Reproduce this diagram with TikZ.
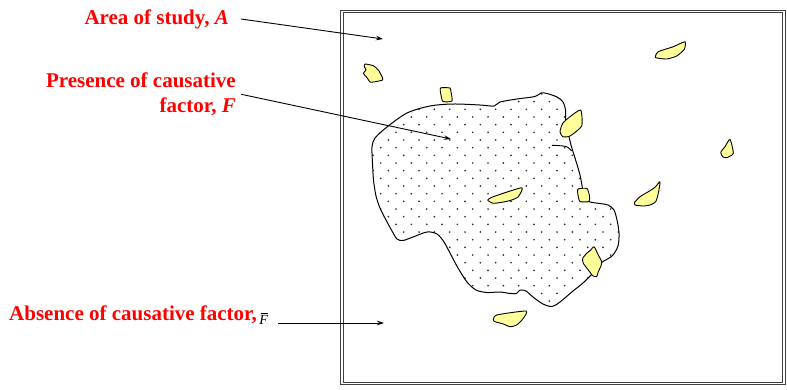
\documentclass[tikz,border=0pt]{standalone}
\usepackage{fontspec}
\setmainfont{Liberation Serif}
\usetikzlibrary{arrows.meta}
\definecolor{leafyellow}{RGB}{255,255,153}
\newcommand{\factorblob}{plot[smooth cycle, tension=0.5] coordinates {
  (372,147) (375,138) (387,127) (407,113) (430,106) (453,104) (480,105) (494,106)
  (500,102) (517,99) (535,96.5) (541,93) (547,93.5) (557,97) (563,102) (565.5,110)
  (565.5,118) (567,128) (571,145) (575,158) (580,175) (583,190) (588,201) (600,203.5)
  (608,205) (614,210) (617,220) (619,233) (618,246) (612,256) (601,263) (592,274)
  (583,283) (573,291) (560,302) (552,306.5) (543,304) (533,297) (526,291) (520,290)
  (516.5,293.5) (510,293.5) (500,292) (487,292.5) (476,290) (467,282) (458,268) (450,253)
  (444,242) (437,234) (427,232) (413,237) (403,240.5) (397,239) (392,231) (386,220)
  (380,208) (376,196) (373.5,180) (372.5,163)}}

\begin{document}
\begin{tikzpicture}[x=1pt, y=-1pt,
  label/.style={text=red, font=\fontsize{21}{25}\selectfont\bfseries, inner sep=0pt},
  pointer/.style={line width=0.9pt, -{Stealth[length=7pt, width=4.5pt]}},
  leaf/.style={draw=black, fill=leafyellow, line width=0.9pt, line join=round},
  frame/.style={draw=black!75, line width=1pt}]
\useasboundingbox (0,0) rectangle (787,389);
% area of study
\draw[frame] (340.5,10) rectangle (785,384.5);
\draw[frame] (343,12.5) rectangle (782.5,382);
% presence of the factor
\begin{scope}
\clip \factorblob;
\foreach \j in {0,...,30}{
  \foreach \i in {-6,...,12}{
    \pgfmathsetmacro{\xx}{449.7 + 15.33*\i + 7.67*mod(\j+1,2)}
    \pgfmathsetmacro{\yy}{86.3 + 7.67*\j}
    \fill[black!80] (\xx,\yy) circle (0.95);
  }
}
\end{scope}
\draw[line width=1pt] \factorblob;
\draw[line width=0.9pt] plot[smooth, tension=0.6] coordinates {(552,145.3) (566,146.5) (571.5,151)};
% leaves
\draw[leaf] plot[smooth cycle, tension=0.35] coordinates {(365,64) (373.3,65.7) (378.3,70) (381.7,76) (382.7,80) (373.3,82) (370,82) (366.7,77.3) (363.3,73.3) (366,70) (364.3,66.7)};
\draw[leaf] plot[smooth cycle, tension=0.35] coordinates {(440.5,88) (450,88) (451,92) (452,101) (443,101.5) (441,95)};
\draw[leaf] plot[smooth cycle, tension=0.35] coordinates {(655.5,57.5) (658.3,51.7) (673.3,46.7) (685,41.7) (684.3,49.3) (676.7,56) (666.7,59)};
\draw[leaf] plot[smooth cycle, tension=0.35] coordinates {(580.7,110) (581.7,126) (570,136) (562.7,136.7) (560,131.7) (562.7,123.3) (570,116.7)};
\draw[leaf] plot[smooth cycle, tension=0.35] coordinates {(730,139.3) (733.3,153.3) (726.7,157.7) (722.7,156.7) (720.7,152.3) (725,146.7)};
\draw[leaf] plot[smooth cycle, tension=0.35] coordinates {(487.7,200) (493.3,196.7) (521.7,187.7) (518.3,196.7) (511.7,200) (505,201.7) (493.3,203.3)};
\draw[leaf] plot[smooth cycle, tension=0.35] coordinates {(578,189) (587,188.5) (589.5,196) (589,201.5) (580,201.5) (578,195)};
\draw[leaf] plot[smooth cycle, tension=0.35] coordinates {(660,181.7) (658.3,193.3) (655.7,201.7) (650,205) (643.3,206) (635,205) (634.3,202.7) (640,196.7) (648.3,191.7) (655,187.3)};
\draw[leaf] plot[smooth cycle, tension=0.35] coordinates {(594,246.7) (598.3,255) (601.7,261.7) (600.7,266.7) (598.3,271.7) (596.7,276.7) (592.7,275.7) (588.3,270) (583.3,263.3) (582.7,258.3) (586.7,253.3) (590.7,250)};
\draw[leaf] plot[smooth cycle, tension=0.35] coordinates {(493.3,320) (496.7,315) (526,311) (523.3,318.3) (516.7,325) (510,326.7) (503.3,324) (495,321.7)};
% labels
\node[label, anchor=base east] (area) at (229,24) {Area of study, \textit{A}};
\node[label, anchor=base east, align=right] (presence) at (236,112.5) {Presence of causative\\factor, \textit{F}};
\node[label, anchor=base west] (absence) at (9,320) {Absence of causative factor,\kern2.5pt\raisebox{-4.5pt}{\normalfont\color{black}\fontsize{14}{14}\selectfont\rlap{\kern1.5pt\rule[11pt]{7.5pt}{0.6pt}}\itshape F}};
\coordinate (areatip) at (383,39);
\coordinate (presencetip) at (451,139);
\coordinate (absencetip) at (384,323);
\draw[pointer] ([shift={(12,-5)}]area.base east) -- (areatip);
\draw[pointer] ([xshift=5pt]presence.east) -- (presencetip);
\draw[pointer] ([shift={(10,3)}]absence.base east) -- (absencetip);
\end{tikzpicture}
\end{document}
